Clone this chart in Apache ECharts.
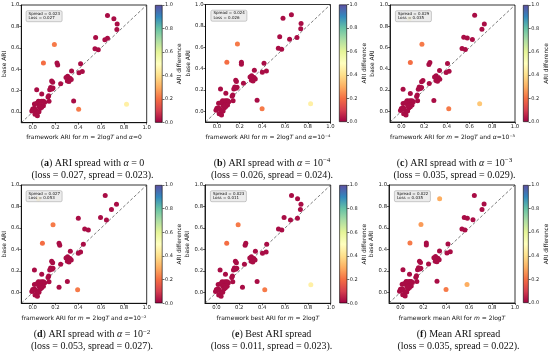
<!DOCTYPE html>
<html><head><meta charset="utf-8">
<script src="https://cdn.jsdelivr.net/npm/echarts@6/dist/echarts.min.js"></script>
<style>html,body{margin:0;padding:0;background:#fff}#c{width:550px;height:358px}</style>
</head><body><div id="c"></div>
<script>
// ---------- data ----------
const baseARI = [0.903,0.872,0.822,0.772,0.697,0.690,0.675,0.590,0.581,0.631,
0.459,0.459,0.440,0.450,0.384,0.378,0.366,0.334,0.322,0.316,
0.303,0.290,0.284,0.290,0.278,0.263,0.228,0.225,0.216,0.209,
0.209,0.169,0.153,0.140,0.100,0.103,0.025,0.072,0.100,0.097,
0.100,0.100,0.090,0.075,0.081,0.059,0.059,0.059,0.028,0.009,
0.019,0.034,0.022,-0.003,-0.022,-0.034,0.003,0.034,0.044,0.050];

const xA = [0.656,0.712,0.741,0.738,0.552,0.656,0.633,0.546,0.575,0.190,
0.094,0.213,0.219,0.420,0.341,0.435,0.406,0.306,0.292,0.327,
0.338,0.304,0.318,0.166,0.175,0.245,0.157,0.178,0.169,0.149,
0.035,0.079,0.140,0.134,0.143,0.359,0.403,0.823,0.050,0.065,
0.079,0.094,0.105,0.015,0.035,0.055,0.073,0.094,0.000,-0.008,
0.006,0.015,0.026,0.041,0.020,0.041,0.055,0.067,0.079,0.060];
const xB = [0.656,0.582,0.741,0.738,0.553,0.705,0.640,0.541,0.570,0.181,
0.088,0.216,0.216,0.415,0.330,0.436,0.400,0.306,0.292,0.327,
0.338,0.304,0.318,0.166,0.172,0.234,0.157,0.178,0.169,0.149,
0.032,0.079,0.140,0.134,0.143,0.354,0.398,0.825,0.050,0.065,
0.079,0.094,0.105,0.015,0.035,0.055,0.073,0.094,0.000,-0.008,
0.006,0.015,0.026,0.041,0.020,0.041,0.055,0.067,0.079,0.060];
const xC = [0.645,0.070,0.730,0.709,0.549,0.580,0.625,0.534,0.563,0.181,
0.079,0.251,0.242,0.406,0.336,0.420,0.394,0.306,0.292,0.327,
0.338,0.304,0.318,0.190,0.178,0.245,0.157,0.178,0.169,0.149,
0.015,0.079,0.140,0.134,0.143,0.286,0.417,0.689,0.050,0.065,
0.079,0.094,0.105,0.015,0.035,0.055,0.073,0.094,0.000,-0.008,
0.006,0.015,0.026,0.041,0.020,0.041,0.055,0.067,0.079,0.060];
const xD = [0.636,0.050,0.735,0.691,0.595,0.400,0.647,0.456,0.488,0.178,
0.085,0.231,0.237,0.444,0.330,0.420,0.400,0.306,0.292,0.327,
0.338,0.304,0.318,0.166,0.175,0.245,0.157,0.178,0.169,0.149,
0.015,0.079,0.140,0.134,0.143,0.304,0.394,0.080,0.050,0.065,
0.079,0.094,0.105,0.015,0.035,0.055,0.073,0.094,0.000,-0.008,
0.006,0.015,0.026,0.041,0.020,0.041,0.055,0.067,0.079,0.231];
const xE = [0.657,0.710,0.740,0.735,0.592,0.709,0.648,0.543,0.572,0.190,
0.090,0.257,0.251,0.440,0.341,0.435,0.403,0.306,0.292,0.327,
0.338,0.304,0.318,0.166,0.175,0.245,0.157,0.178,0.169,0.149,
0.032,0.079,0.140,0.134,0.143,0.356,0.423,0.826,0.050,0.065,
0.079,0.094,0.105,0.015,0.035,0.055,0.073,0.094,0.000,-0.008,
0.006,0.015,0.026,0.041,0.020,0.041,0.055,0.067,0.079,0.228];
const xF = [0.645,0.342,0.730,0.712,0.557,0.584,0.633,0.537,0.563,0.179,
0.083,0.226,0.226,0.415,0.341,0.435,0.406,0.306,0.292,0.327,
0.338,0.304,0.318,0.166,0.175,0.245,0.157,0.178,0.169,0.149,
0.022,0.079,0.140,0.134,0.143,0.319,0.398,0.581,0.050,0.065,
0.079,0.094,0.105,0.015,0.035,0.055,0.073,0.094,0.000,-0.008,
0.006,0.015,0.026,0.041,0.020,0.041,0.055,0.067,0.079,0.060];

// ARI difference (colour value) per point
const cA = [0.02,0.02,0.02,0.02,0.02,0.02,0.02,0.02,0.02,0.22,
0.20,0.02,0.02,0.02,0.02,0.02,0.02,0.02,0.02,0.02,
0.02,0.02,0.02,0.02,0.02,0.02,0.02,0.02,0.02,0.02,
0.02,0.02,0.02,0.02,0.02,0.02,0.22,0.45,0.02,0.02,
0.02,0.02,0.02,0.02,0.02,0.02,0.02,0.02,0.02,0.02,
0.02,0.02,0.02,0.02,0.02,0.02,0.02,0.02,0.02,0.02];
const cB = cA.slice();
const cC = [0.02,0.45,0.02,0.02,0.02,0.02,0.02,0.02,0.02,0.22,
0.20,0.02,0.02,0.02,0.02,0.02,0.02,0.02,0.02,0.02,
0.02,0.02,0.02,0.02,0.02,0.02,0.02,0.02,0.02,0.02,
0.02,0.02,0.02,0.02,0.02,0.02,0.22,0.35,0.02,0.02,
0.02,0.02,0.02,0.02,0.02,0.02,0.02,0.02,0.02,0.02,
0.02,0.02,0.02,0.02,0.02,0.02,0.02,0.02,0.02,0.02];
const cD = [0.02,0.40,0.02,0.02,0.02,0.02,0.02,0.02,0.02,0.22,
0.20,0.02,0.02,0.02,0.02,0.02,0.02,0.02,0.02,0.02,
0.02,0.02,0.02,0.02,0.02,0.02,0.02,0.02,0.02,0.02,
0.02,0.02,0.02,0.02,0.02,0.02,0.22,0.02,0.02,0.02,
0.02,0.02,0.02,0.02,0.02,0.02,0.02,0.02,0.02,0.02,
0.02,0.02,0.02,0.02,0.02,0.02,0.02,0.02,0.02,0.02];
const cE = cA.slice();
const cF = [0.02,0.30,0.02,0.02,0.02,0.02,0.02,0.02,0.02,0.27,
0.22,0.02,0.02,0.02,0.02,0.02,0.02,0.02,0.02,0.02,
0.02,0.02,0.02,0.02,0.02,0.02,0.02,0.02,0.02,0.02,
0.02,0.02,0.02,0.02,0.02,0.02,0.22,0.30,0.02,0.02,
0.02,0.02,0.02,0.02,0.02,0.02,0.02,0.02,0.02,0.02,
0.02,0.02,0.02,0.02,0.02,0.02,0.02,0.02,0.02,0.02];

const spreads = ['0.023','0.024','0.029','0.027','0.023','0.022'];
const losses  = ['0.027','0.026','0.035','0.053','0.011','0.035'];
const tickValues = [0.0,0.2,0.4,0.6,0.8,1.0];
const axisRange = [-0.1, 1.0];
const colorRange = [0, 1];
const xLabels = [
 'framework ARI for {i|m} = 2log{i|T} and {i|α}=0',
 'framework ARI for {i|m} = 2log{i|T} and {i|α}=10⁻⁴',
 'framework ARI for {i|m} = 2log{i|T} and {i|α}=10⁻³',
 'framework ARI for {i|m} = 2log{i|T} and {i|α}=10⁻²',
 'framework best ARI for {i|m} = 2log{i|T}',
 'framework mean ARI for {i|m} = 2log{i|T}'
];
const captionHeads = [
 '({b|a}) ARI spread with {i|α} = 0',
 '({b|b}) ARI spread with {i|α} = 10{sup|−4}',
 '({b|c}) ARI spread with {i|α} = 10{sup|−3}',
 '({b|d}) ARI spread with {i|α} = 10{sup|−2}',
 '({b|e}) Best ARI spread',
 '({b|f}) Mean ARI spread'
];
const xs = [xA,xB,xC,xD,xE,xF];
const cs = [cA,cB,cC,cD,cE,cF];

// ---------- layout ----------
const mainGrids = [[20.7,5,126,117.7],[205.5,4.5,125,117.5],[390,5,125,117],
                   [20.7,185,126,118.3],[205,185,125.7,118.3],[389,185,126,118]];
const cbGrids = [[155,5,7.5,117.7],[339,4.5,8,117.5],[523,5,8,117],
                 [155,185,7.5,118.3],[339.3,185,8,118.3],[523,185,8,118]];
const capCenters = [[92.5,157],[272,157],[454.5,157],[92,328.5],[271.5,328.5],[458.5,328.5]];
const spectral = ['#9e0142','#d53e4f','#f46d43','#fdae61','#fee08b','#ffffbf','#e6f598','#abdda4','#66c2a5','#3288bd','#5e4fa2'];
const SANS = '"DejaVu Sans", sans-serif';
const SERIF = '"Liberation Serif", "DejaVu Serif", serif';

const grid=[], xAxis=[], yAxis=[], series=[], title=[];
const f1 = v => v.toFixed(1);
for (let i=0;i<6;i++){
  const g = mainGrids[i];
  grid.push({left:g[0], top:g[1], width:g[2], height:g[3], show:true, borderColor:'#000', borderWidth:0.8, backgroundColor:'transparent'});
  xAxis.push({gridIndex:i, type:'value', min:axisRange[0], max:axisRange[1],
    axisLine:{show:true,onZero:false,lineStyle:{color:'#000',width:0.8}},
    axisTick:{show:true,length:2,customValues:tickValues,lineStyle:{color:'#000',width:0.6}},
    axisLabel:{fontSize:5.3,color:'#222',fontFamily:SANS,margin:2,customValues:tickValues,formatter:f1},
    splitLine:{show:false},
    name:xLabels[i], nameLocation:'middle', nameGap:12,
    nameTextStyle:{fontSize:6,fontFamily:SANS,color:'#111',
      rich:{i:{fontStyle:'italic',fontSize:6,fontFamily:SANS,color:'#111'}}}
  });
  yAxis.push({gridIndex:i, type:'value', min:axisRange[0], max:axisRange[1],
    axisLine:{show:true,onZero:false,lineStyle:{color:'#000',width:0.8}},
    axisTick:{show:true,length:2,customValues:tickValues,lineStyle:{color:'#000',width:0.6}},
    axisLabel:{fontSize:5.3,color:'#222',fontFamily:SANS,margin:2,customValues:tickValues,formatter:f1},
    splitLine:{show:false},
    name:'base ARI', nameLocation:'middle', nameRotate:90, nameGap:11,
    nameTextStyle:{fontSize:6,fontFamily:SANS,color:'#111'}
  });
  series.push({type:'scatter', xAxisIndex:i, yAxisIndex:i, symbolSize:5, z:3,
    itemStyle:{opacity:1},
    data: baseARI.map((y,k)=>[xs[i][k], y, cs[i][k]]), silent:true});
  title.push({left:g[0]+5.4, top:g[1]+5, text:'Spread = '+spreads[i]+'\nLoss = '+losses[i],
    padding:[1.2,2.5,1.2,2.5], backgroundColor:'rgba(232,232,232,0.82)', borderColor:'#9a9a9a', borderWidth:0.5, borderRadius:1.5,
    textStyle:{fontSize:4,lineHeight:4.6,fontWeight:'normal',fontFamily:SANS,color:'#111'}});
  const cc = capCenters[i];
  title.push({left:cc[0], top:cc[1], textAlign:'center', padding:0,
    text: captionHeads[i] + '\n(loss = ' + losses[i] + ', spread = ' + spreads[i] + ').',
    textStyle:{fontSize:10,lineHeight:12,fontWeight:'normal',fontFamily:SERIF,color:'#111',
      rich:{b:{fontWeight:'bold',fontSize:10,fontFamily:SERIF,color:'#111',lineHeight:12},
            i:{fontStyle:'italic',fontSize:10,fontFamily:SERIF,color:'#111',lineHeight:12},
            sup:{fontSize:7,fontFamily:SERIF,color:'#111',verticalAlign:'top',lineHeight:8}}}});
}
for (let i=0;i<6;i++){
  series.push({type:'line', xAxisIndex:i, yAxisIndex:i, data: axisRange.map(v=>[v,v]), symbol:'none', silent:true, z:2,
    lineStyle:{color:'#444',width:0.7,type:[3,2]}});
}
for (let i=0;i<6;i++){
  const g = cbGrids[i];
  grid.push({left:g[0], top:g[1], width:g[2], height:g[3], show:false});
  xAxis.push({gridIndex:6+i, type:'category', data:['ARI difference'], show:false});
  yAxis.push({gridIndex:6+i, type:'value', min:colorRange[0], max:colorRange[1], interval:0.2, position:'right',
    axisLine:{show:false}, axisTick:{show:true,length:2,lineStyle:{color:'#000',width:0.6}},
    axisLabel:{fontSize:5,color:'#222',fontFamily:SANS,margin:2.5,formatter:f1}, splitLine:{show:false},
    name:'ARI difference', nameLocation:'middle', nameRotate:90, nameGap:6,
    nameTextStyle:{fontSize:5.8,fontFamily:SANS,color:'#111'}});
  series.push({type:'bar', xAxisIndex:6+i, yAxisIndex:6+i, data:[colorRange[1]], barWidth:'100%', silent:true,
    itemStyle:{borderColor:'#000',borderWidth:0.6,
      color:{type:'linear',x:0,y:1,x2:0,y2:0,colorStops:spectral.map((c,k)=>({offset:k/(spectral.length-1),color:c}))}}});
}
const chart = echarts.init(document.getElementById('c'), null, {renderer:'canvas'});
chart.setOption({
  animation:false, backgroundColor:'#fff',
  grid, xAxis, yAxis, title, series,
  visualMap:{type:'continuous', show:false, seriesIndex:[0,1,2,3,4,5], dimension:2, min:colorRange[0], max:colorRange[1],
    inRange:{color:spectral}}
});
</script></body></html>
